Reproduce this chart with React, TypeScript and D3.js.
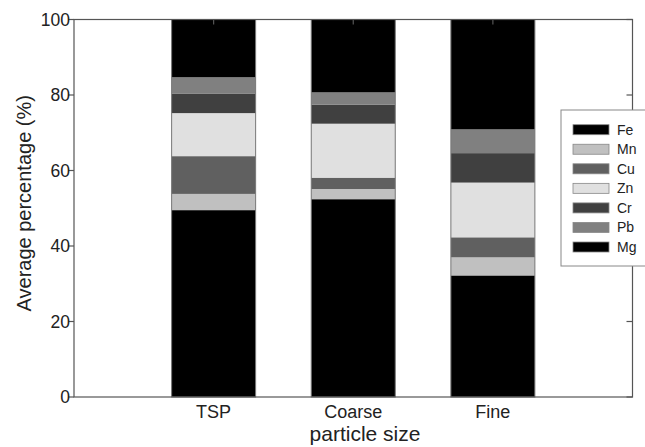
import React from "react";
import * as d3 from "d3";

const categories = ["TSP", "Coarse", "Fine"];
const elements = ["Fe", "Mn", "Cu", "Zn", "Cr", "Pb", "Mg"];
const Fe = [49.5, 52.4, 32.2];
const Mn = [4.3, 2.7, 4.8];
const Cu = [10.0, 3.0, 5.3];
const Zn = [11.4, 14.3, 14.5];
const Cr = [5.1, 5.0, 7.8];
const Pb = [4.4, 3.3, 6.3];
const Mg = [15.3, 19.3, 29.1];
const yTicks = [0, 20, 40, 60, 80, 100];
const colors = ["#000000", "#c0c0c0", "#606060", "#e0e0e0", "#404040", "#808080", "#000000"];

const seriesValues = [Fe, Mn, Cu, Zn, Cr, Pb, Mg];

export default function App() {
  const W = 645, H = 447;
  const left = 74, right = 632.5, top = 19.5, bottom = 397;
  const x = d3.scaleLinear().domain([0, 4]).range([left, right]);
  const y = d3.scaleLinear().domain([0, 100]).range([bottom, top]);
  const barW = 84;

  const table = categories.map((c, i) => {
    const row: any = { cat: c };
    elements.forEach((e, k) => (row[e] = seriesValues[k][i]));
    return row;
  });
  const stacked = d3.stack().keys(elements)(table);
  const axisColor = "#555";

  return (
    <svg width={W} height={H} style={{ position: "absolute", left: 0, top: 0, fontFamily: "'Liberation Sans', Arial, sans-serif" }}>
      <rect x={0} y={0} width={W} height={H} fill="#fff" />
      {stacked.map((layer, k) => (
        <g key={elements[k]}>
          {layer.map((d, i) => (
            <rect
              key={i}
              x={x(i + 1) - barW / 2}
              y={y(d[1])}
              width={barW}
              height={y(d[0]) - y(d[1])}
              fill={colors[k]}
            />
          ))}
        </g>
      ))}
      {categories.map((c, i) => (
        <rect key={c} x={x(i + 1) - barW / 2} y={y(100)} width={barW} height={y(0) - y(100)} fill="none" stroke="#777" strokeWidth={1} />
      ))}
      <rect x={left} y={top} width={right - left} height={bottom - top} fill="none" stroke={axisColor} strokeWidth={1.2} />
      {yTicks.map((t) => (
        <g key={t}>
          <line x1={left - 6} x2={left} y1={y(t)} y2={y(t)} stroke={axisColor} strokeWidth={1.2} />
          <line x1={right - 6} x2={right} y1={y(t)} y2={y(t)} stroke={axisColor} strokeWidth={1.2} />
          <text x={left - 4} y={y(t)} dy="0.36em" textAnchor="end" fontSize={17.5} fill="#222">{t}</text>
        </g>
      ))}
      {categories.map((c, i) => (
        <g key={c}>
          <line x1={x(i + 1)} x2={x(i + 1)} y1={top} y2={top + 5} stroke={axisColor} strokeWidth={1.2} />
          <text x={x(i + 1)} y={418} textAnchor="middle" fontSize={18} fill="#222">{c}</text>
        </g>
      ))}
      <text x={365} y={441} textAnchor="middle" fontSize={21} fill="#222">particle size</text>
      <text transform={`translate(31,${(top + bottom) / 2 - 5}) rotate(-90)`} textAnchor="middle" fontSize={20} fill="#222">Average percentage (%)</text>
      <g>
        <rect x={561} y={110} width={90} height={156} fill="#fff" stroke="#888" strokeWidth={1} />
        {elements.map((e, k) => {
          const cy = 129.7 + k * 19.55;
          return (
            <g key={e}>
              <rect x={573} y={cy - 5} width={36} height={10} fill={colors[k]} stroke="#888" strokeWidth={0.8} />
              <text x={617} y={cy} dy="0.36em" fontSize={14} fill="#222">{e}</text>
            </g>
          );
        })}
      </g>
    </svg>
  );
}
